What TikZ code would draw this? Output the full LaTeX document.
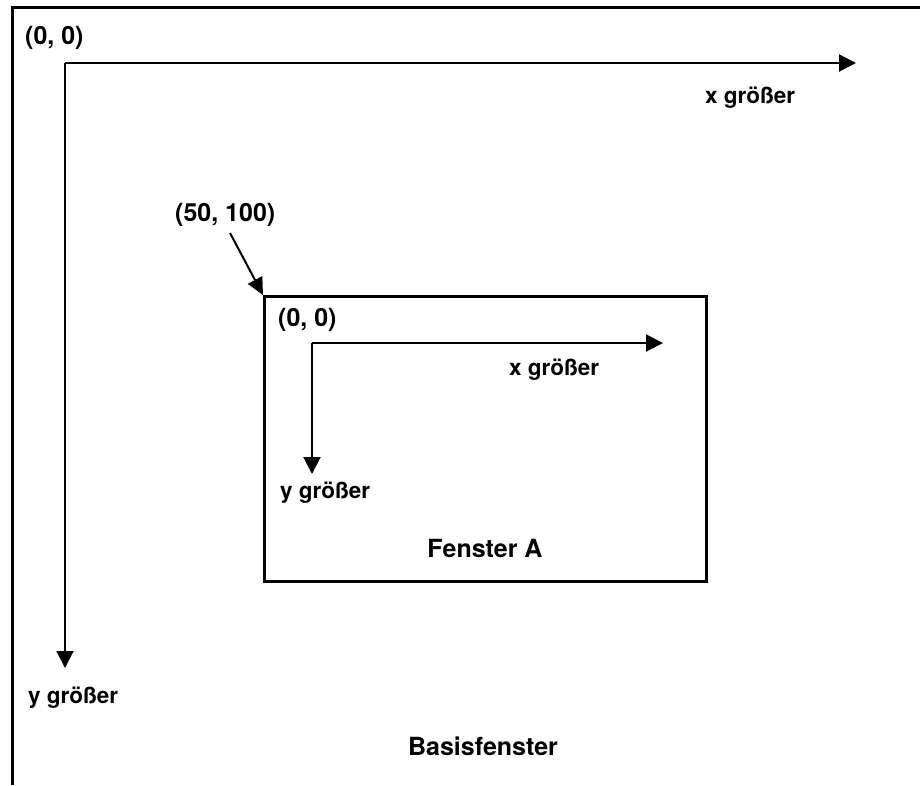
\documentclass[tikz,border=0pt]{standalone}
\usepackage{fontspec}
\setmainfont{TeX Gyre Heros}
\usetikzlibrary{arrows.meta}
\begin{document}
\begin{tikzpicture}[x=1pt,y=-1pt,
  lbl/.style={font=\fontsize{22.5}{24}\selectfont\bfseries, inner sep=0pt},
  crd/.style={font=\fontsize{25}{27}\selectfont\bfseries, inner sep=0pt},
  ttl/.style={font=\fontsize{25}{27}\selectfont\bfseries, inner sep=0pt},
  axis/.style={line width=2pt, -{Triangle[length=17pt,width=17pt]}},
  frame/.style={line width=3pt}]
\useasboundingbox (0,0) rectangle (920,785);
% outer base window (only left and top edges visible)
\coordinate (fl) at (12,785);
\coordinate (ftl) at (12,7);
\coordinate (fr) at (920,7);
\draw[frame] (fl) -- (ftl) -- (fr);
% main axes
\coordinate (o) at (65,63);
\coordinate (xe) at (856,63);
\coordinate (ye) at (65,668);
\draw[axis] (o) -- (xe);
\draw[axis] (o) -- (ye);
\node[crd, anchor=west] (o0) at (25,38) {(0, 0)};
\node[lbl, anchor=west] (xg) at (705,98) {x größer};
\node[lbl, anchor=west] (yg) at (28,698) {y größer};
\node[ttl] (bf) at (483,746) {Basisfenster};
% window A
\node[draw, line width=3pt, minimum width=442pt, minimum height=285pt, inner sep=0pt, anchor=north west] (fa) at (263,295) {};
\node[crd, anchor=west] (p50) at (175,215) {(50, 100)};
\draw[line width=2pt, -{Triangle[length=17pt,width=16pt]}] (230,233) -- (fa.north west);
\coordinate (io) at (312,343);
\coordinate (ixe) at (663,343);
\coordinate (iye) at (312,474);
\draw[axis] (io) -- (ixe);
\draw[axis] (io) -- (iye);
\node[crd, anchor=west] (i00) at (278,320) {(0, 0)};
\node[lbl, anchor=west] (ixg) at (509,370) {x größer};
\node[lbl, anchor=west] (iyg) at (280,493) {y größer};
\node[ttl] (fat) at (485,548) {Fenster A};
\end{tikzpicture}
\end{document}
